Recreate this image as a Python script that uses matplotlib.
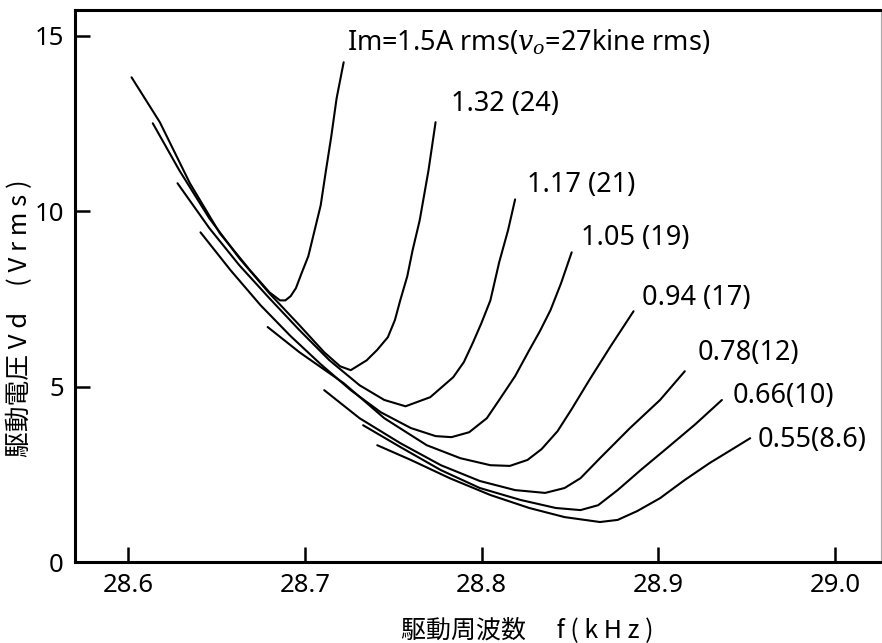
import matplotlib
matplotlib.use("Agg")
import matplotlib.pyplot as plt

plt.rcParams['font.family'] = ['Noto Sans', 'Noto Sans CJK JP', 'DejaVu Sans']
plt.rcParams['mathtext.fontset'] = 'custom'
plt.rcParams['mathtext.it'] = 'DejaVu Serif:italic'

# courbes : f (kHz), Vd (Vrms)
f_150 = [28.602, 28.618, 28.635, 28.652, 28.669, 28.680, 28.686, 28.689, 28.692, 28.695, 28.698, 28.702, 28.705, 28.709, 28.712, 28.715, 28.718, 28.722]
v_150 = [13.82, 12.54, 10.80, 9.37, 8.32, 7.69, 7.46, 7.46, 7.58, 7.81, 8.21, 8.72, 9.34, 10.17, 11.17, 12.14, 13.22, 14.25]

f_132 = [28.614, 28.629, 28.646, 28.663, 28.680, 28.697, 28.711, 28.720, 28.726, 28.735, 28.741, 28.747, 28.751, 28.754, 28.758, 28.761, 28.765, 28.770, 28.774]
v_132 = [12.51, 11.17, 9.80, 8.66, 7.66, 6.75, 5.98, 5.58, 5.47, 5.75, 6.05, 6.41, 6.90, 7.46, 8.15, 8.89, 9.74, 11.17, 12.54]

f_117 = [28.628, 28.646, 28.663, 28.680, 28.697, 28.714, 28.731, 28.745, 28.757, 28.771, 28.784, 28.790, 28.795, 28.800, 28.805, 28.810, 28.815, 28.819]
v_117 = [10.80, 9.52, 8.46, 7.52, 6.61, 5.75, 5.04, 4.62, 4.44, 4.70, 5.27, 5.70, 6.24, 6.82, 7.46, 8.55, 9.46, 10.34]

f_105 = [28.641, 28.658, 28.675, 28.692, 28.709, 28.726, 28.743, 28.760, 28.774, 28.783, 28.793, 28.803, 28.810, 28.819, 28.827, 28.833, 28.839, 28.845, 28.851]
v_105 = [9.40, 8.32, 7.32, 6.44, 5.64, 4.90, 4.27, 3.82, 3.59, 3.56, 3.70, 4.10, 4.62, 5.30, 6.04, 6.58, 7.18, 7.95, 8.83]

f_094 = [28.679, 28.697, 28.722, 28.745, 28.769, 28.788, 28.805, 28.816, 28.826, 28.834, 28.843, 28.851, 28.861, 28.873, 28.886]
v_094 = [6.70, 5.98, 5.10, 4.10, 3.33, 2.96, 2.76, 2.74, 2.91, 3.22, 3.73, 4.36, 5.19, 6.15, 7.15]

f_078 = [28.711, 28.731, 28.754, 28.777, 28.799, 28.819, 28.836, 28.847, 28.856, 28.867, 28.884, 28.901, 28.915]
v_078 = [4.90, 4.10, 3.39, 2.76, 2.31, 2.05, 1.97, 2.11, 2.39, 2.96, 3.82, 4.62, 5.44]

f_066 = [28.733, 28.754, 28.777, 28.799, 28.822, 28.842, 28.856, 28.866, 28.877, 28.890, 28.905, 28.921, 28.936]
v_066 = [3.90, 3.28, 2.62, 2.11, 1.77, 1.54, 1.48, 1.62, 2.05, 2.62, 3.25, 3.93, 4.62]

f_055 = [28.741, 28.760, 28.782, 28.805, 28.827, 28.847, 28.867, 28.877, 28.888, 28.901, 28.915, 28.929, 28.942, 28.952]
v_055 = [3.33, 2.91, 2.39, 1.91, 1.54, 1.28, 1.14, 1.20, 1.45, 1.82, 2.34, 2.82, 3.22, 3.53]

labels = [r"Im=1.5A rms($\mathit{v}_o$=27kine rms)", "1.32 (24)", "1.17 (21)", "1.05 (19)",
          "0.94 (17)", "0.78(12)", "0.66(10)", "0.55(8.6)"]
label_f = [28.724, 28.783, 28.826, 28.856, 28.891, 28.922, 28.942, 28.956]
label_v = [14.81, 13.05, 10.74, 9.23, 7.52, 5.95, 4.73, 3.48]

x_ticks = [28.6, 28.7, 28.8, 28.9, 29.0]
y_ticks = [0, 5, 10, 15]

fig = plt.figure(figsize=(8.82, 6.43), dpi=100)
ax = fig.add_axes([75/882, 1-562/643, 806/882, 552/643])

courbes = [(f_150, v_150), (f_132, v_132), (f_117, v_117), (f_105, v_105),
           (f_094, v_094), (f_078, v_078), (f_066, v_066), (f_055, v_055)]
for f, v in courbes:
    ax.plot(f, v, color='black', lw=1.5, solid_joinstyle='round', solid_capstyle='round')

for txt, x, y in zip(labels, label_f, label_v):
    ax.text(x, y, txt, fontsize=19.5, ha='left', va='center')

ax.set_xlim(28.570, 29.026)
ax.set_ylim(0, 15.74)
ax.set_xticks(x_ticks)
ax.set_xticklabels([f"{t:.1f}" for t in x_ticks])
ax.set_yticks(y_ticks)
ax.tick_params(direction='in', length=11, width=1.8, labelsize=18.5, pad=8)

for side in ['left', 'bottom', 'top']:
    ax.spines[side].set_linewidth(2.2)
ax.spines['right'].set_linewidth(0.8)
ax.spines['right'].set_color('#aaaaaa')

fig.text(20/882, 1-318/643, "駆動電圧 V d　( V r m s )", rotation=90, ha='center', va='center',
         fontsize=18.5, family=['Noto Sans CJK JP', 'DejaVu Sans'])
fig.text(527/882, 1-630/643, "駆動周波数　 f ( k H z )", ha='center', va='center',
         fontsize=18, family=['Noto Sans CJK JP', 'DejaVu Sans'])

fig.savefig("out.png", dpi=100)
